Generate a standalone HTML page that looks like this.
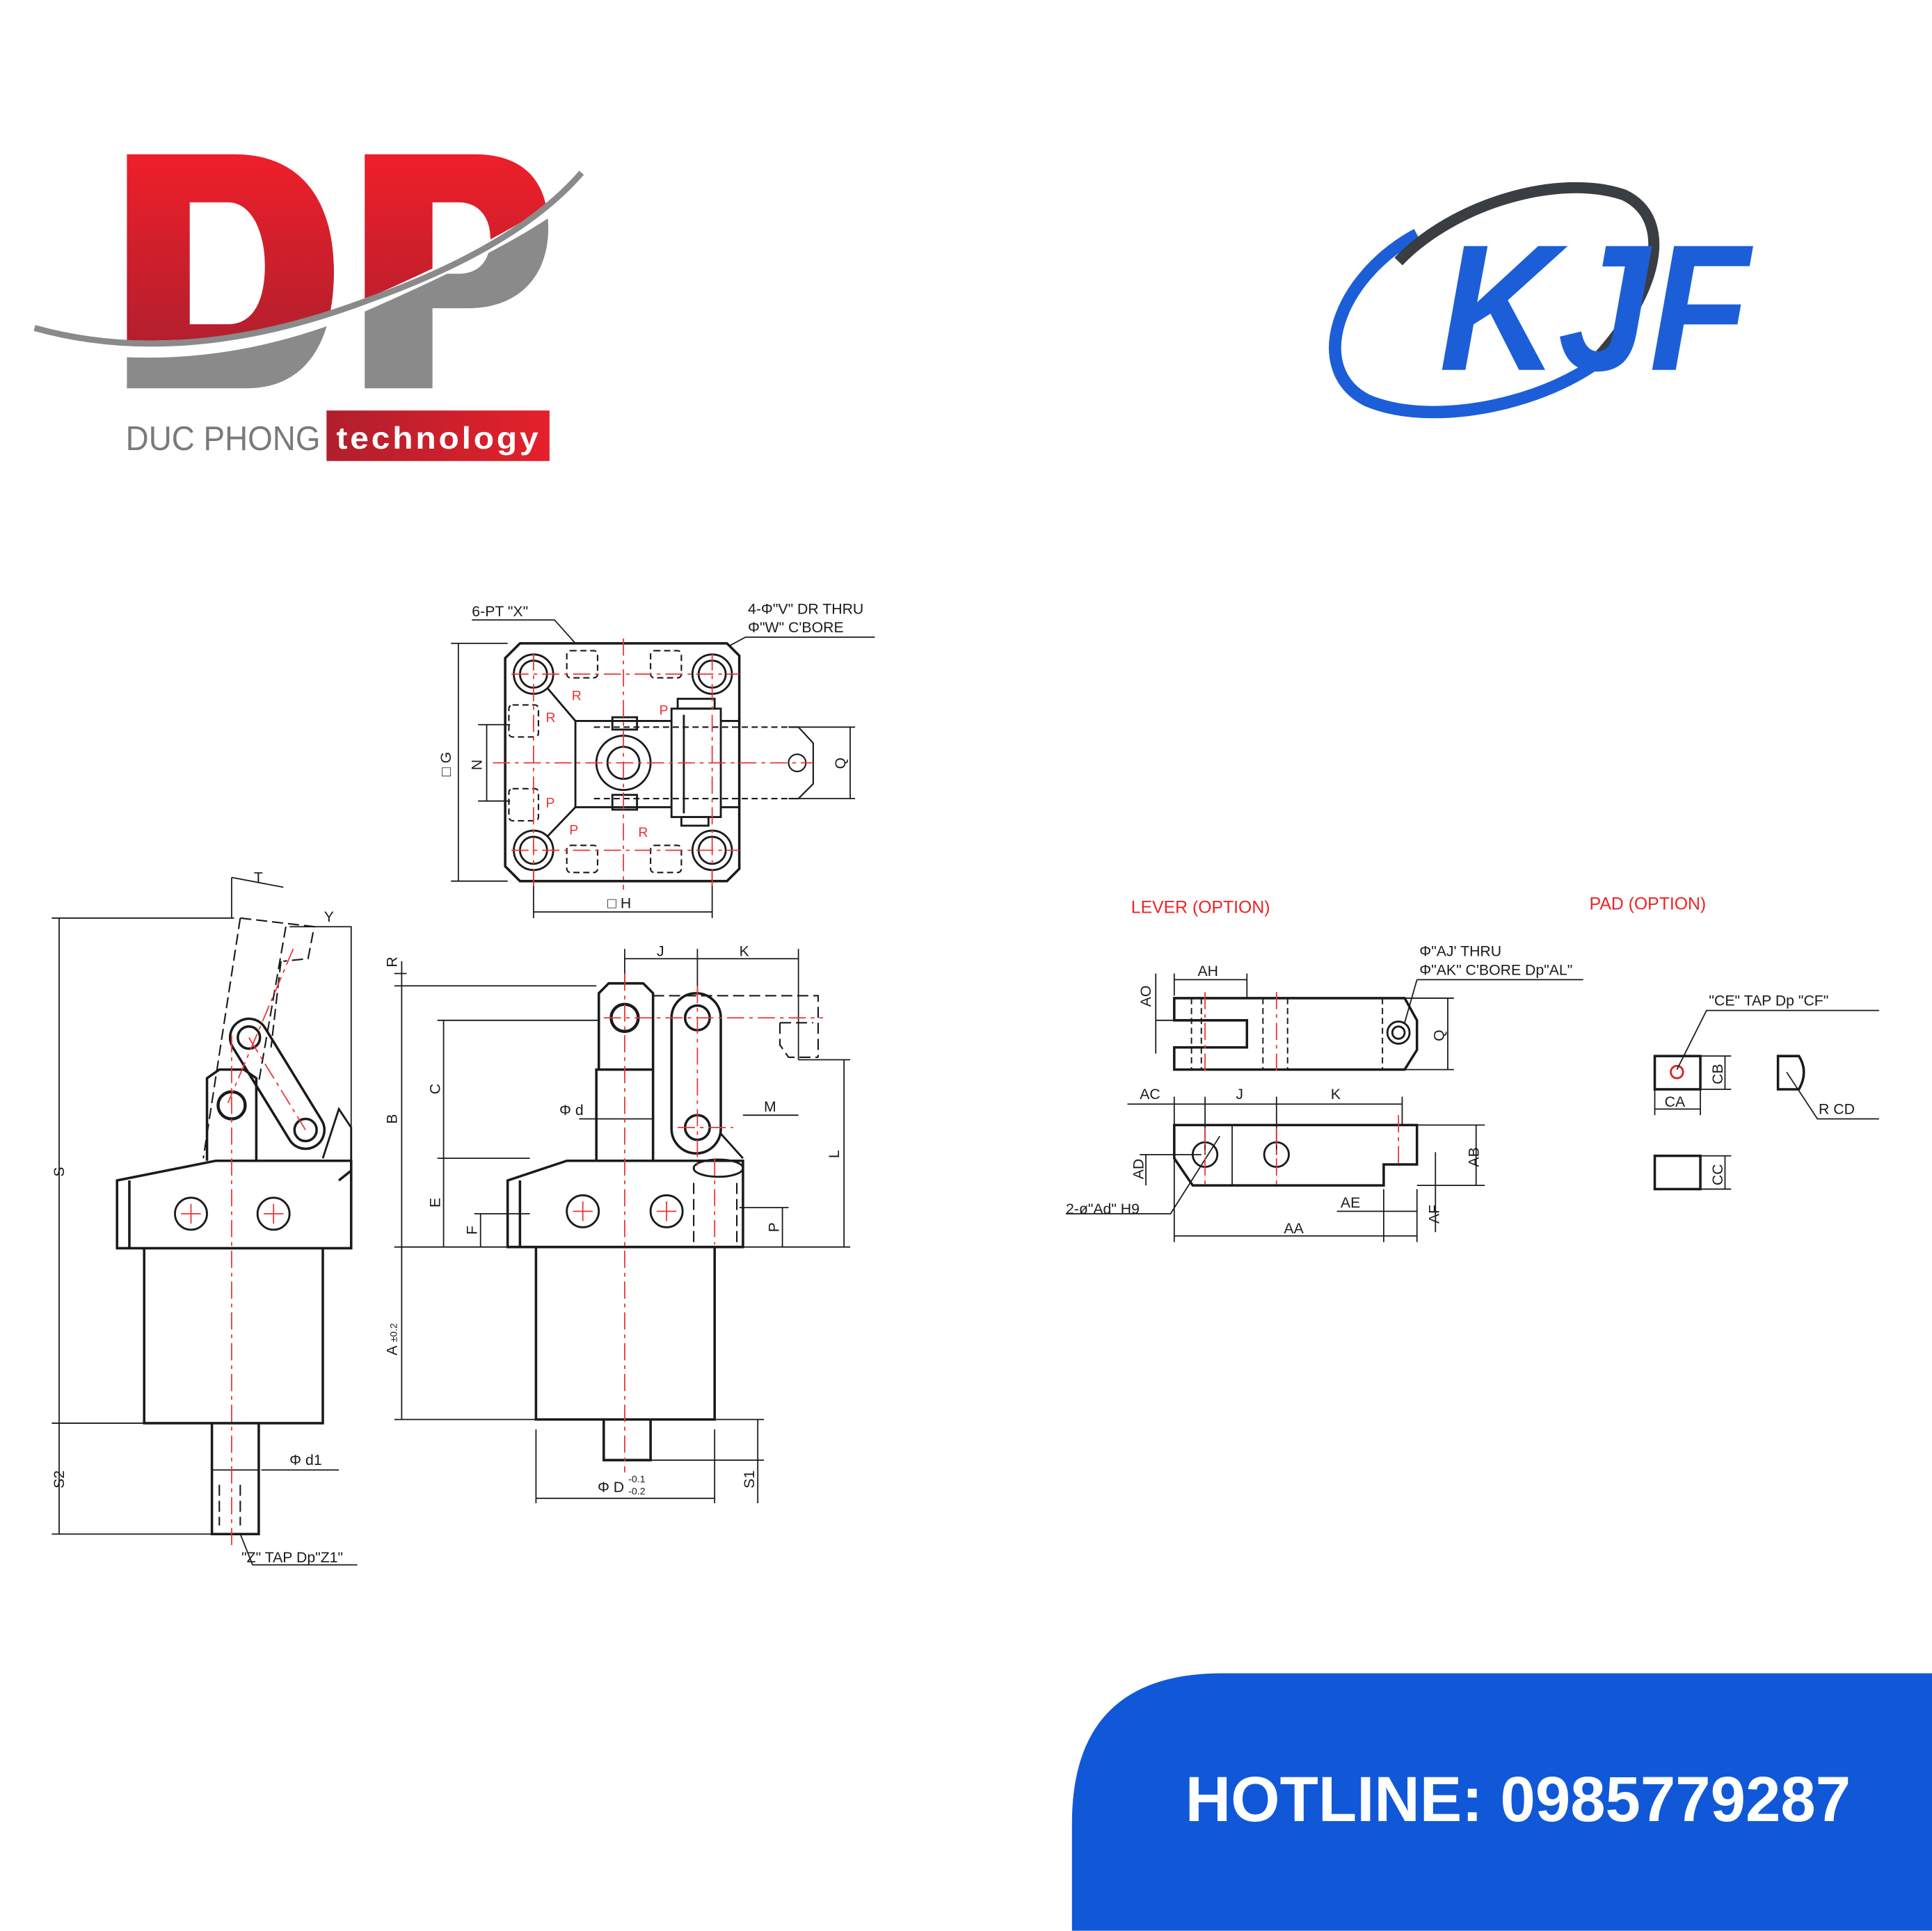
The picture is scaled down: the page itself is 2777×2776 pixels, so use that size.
<!DOCTYPE html>
<html><head><meta charset="utf-8"><style>
html,body{margin:0;padding:0;background:#fff;}
svg{display:block;}
text{font-family:"Liberation Sans",sans-serif;}
</style></head><body>
<svg width="2777" height="2776" viewBox="0 0 1568 1567" xmlns="http://www.w3.org/2000/svg">
<defs>
<linearGradient id="rg" x1="0" y1="0" x2="0" y2="1"><stop offset="0" stop-color="#ee1f2a"/><stop offset="1" stop-color="#a51f2e"/></linearGradient>
<linearGradient id="tg" x1="0" y1="0" x2="1" y2="0"><stop offset="0" stop-color="#b11f2c"/><stop offset="1" stop-color="#e4202b"/></linearGradient>
<clipPath id="below"><path d="M0,268 Q150,312 300,246 T480,142 V400 H0Z"/></clipPath>
<clipPath id="above"><path d="M0,0 H500 V142 Q420,200 300,246 T0,268Z"/></clipPath>
</defs>
<rect width="1568" height="1567" fill="#fff"/>

<!-- DP logo -->
<g fill-rule="evenodd">
<path clip-path="url(#above)" fill="url(#rg)" d="M103,125 H190 C250,125 271,170 271,220 C271,275 250,315 200,315 H103 Z M154,164 H185 C205,164 215,190 215,215 C215,245 205,263 185,263 H154 Z M296,125 H385 C428,125 445,150 445,185 C445,225 420,250 380,250 H351 V315 H296 Z M351,164 H372 C390,164 398,178 398,193 C398,210 390,222 372,222 H351 Z"/>
<path clip-path="url(#below)" fill="#8a8a8a" d="M103,125 H190 C250,125 271,170 271,220 C271,275 250,315 200,315 H103 Z M154,164 H185 C205,164 215,190 215,215 C215,245 205,263 185,263 H154 Z M296,125 H385 C428,125 445,150 445,185 C445,225 420,250 380,250 H351 V315 H296 Z M351,164 H372 C390,164 398,178 398,193 C398,210 390,222 372,222 H351 Z"/>
</g>
<path d="M0,268 Q150,312 300,246 T480,142" fill="none" stroke="#fff" stroke-width="9"/>
<path d="M28,266 Q150,300 300,243 Q420,200 472,140" fill="none" stroke="#8a8a8a" stroke-width="5"/>
<text x="102" y="365" font-size="28" fill="#7a7a7a" textLength="158" lengthAdjust="spacingAndGlyphs">DUC PHONG</text>
<rect x="265" y="333" width="181" height="41" fill="url(#tg)"/>
<text x="273" y="364" font-size="25" font-weight="bold" fill="#fff" letter-spacing="2" textLength="166" lengthAdjust="spacingAndGlyphs">technology</text>

<!-- KJF logo -->
<path d="M1150,190 C1085,225 1060,300 1110,325 C1170,350 1280,322 1320,272" fill="none" stroke="#1b5ed8" stroke-width="10"/>
<path d="M1135,212 C1180,165 1265,140 1318,158 C1360,178 1345,240 1292,295" fill="none" stroke="#3a3d42" stroke-width="9"/>
<text x="1168" y="300" font-size="146" font-weight="bold" font-style="italic" fill="#1b5ed8" textLength="252" lengthAdjust="spacingAndGlyphs">KJF</text>

<!-- Hotline -->
<path d="M870,1567 V1480 Q870,1358 992,1358 H1568 V1567 Z" fill="#1058d8"/>
<text x="962" y="1478" font-size="52" font-weight="bold" fill="#fff" textLength="540" lengthAdjust="spacingAndGlyphs">HOTLINE: 0985779287</text>

<!-- ===== Drawings ===== -->
<g fill="none" stroke="#1a1a1a" stroke-width="1.6">
<!-- top view -->
<path d="M422,522 H590 L600,532 V705 L590,715 H422 L410,703 V534 Z" stroke-width="2"/>
<circle cx="433" cy="547" r="16"/><circle cx="433" cy="547" r="11"/>
<circle cx="578" cy="547" r="16"/><circle cx="578" cy="547" r="11"/>
<circle cx="433" cy="690" r="16"/><circle cx="433" cy="690" r="11"/>
<circle cx="578" cy="690" r="16"/><circle cx="578" cy="690" r="11"/>
<path d="M444,558 L467,585 H545 M444,679 L467,655 H545 M467,585 V655"/>
<circle cx="506" cy="619" r="22"/><circle cx="506" cy="619" r="13"/>
<rect x="497" y="582" width="20" height="10"/><rect x="497" y="645" width="20" height="12"/>
<rect x="545" y="575" width="40" height="88"/><line x1="555" y1="580" x2="555" y2="660"/>
<rect x="550" y="567" width="30" height="8"/><rect x="553" y="663" width="22" height="7"/>
<path d="M585,585 H600 M585,655 H600"/>
<g stroke-dasharray="5,3" stroke-width="1.2">
<rect x="460" y="528" width="25" height="22" rx="3"/><rect x="528" y="528" width="25" height="22" rx="3"/>
<rect x="460" y="686" width="25" height="22" rx="3"/><rect x="528" y="686" width="25" height="22" rx="3"/>
<rect x="413" y="572" width="24" height="26" rx="3"/><rect x="413" y="640" width="24" height="26" rx="3"/>
<path d="M482,590 H640 M482,648 H640"/>
</g>
<path d="M640,590 H648 L660,603 V636 L648,648 H640" stroke-width="1.2"/>
<circle cx="647" cy="619" r="7" stroke-width="1.2"/>
<path d="M372,522 V715 M366,522 H412 M366,715 H412 M395,588 V650 M388,588 H414 M388,650 H414 M690,590 V648 M640,590 H694 M640,648 H694 M433,705 V745 M578,705 V745 M433,740 H578" stroke-width="1"/>
<path d="M383,503 H450 L467,522 M592,524 L605,517 H710" stroke-width="1"/>

<!-- left side view -->
<path d="M95,958 L175,942 H285 V1013 H95 Z M105,958 V1013 M275,958 L285,950" stroke-width="2"/>
<path d="M117,1013 V1155 H262 V1013 M172,1155 V1245 H210 V1155" stroke-width="2"/>
<circle cx="155" cy="985" r="13"/><circle cx="222" cy="985" r="13"/>
<path d="M168,942 V875 L178,868 H198 L208,875 V942" stroke-width="2"/>
<circle cx="188" cy="897" r="11" stroke-width="2.5"/>
<path d="M189,850 L235,925 A15,15 0 0 0 261,909 L215,834 A15,15 0 0 0 189,850 Z" stroke-width="2"/>
<circle cx="202" cy="842" r="9" stroke-width="2"/><circle cx="248" cy="917" r="9" stroke-width="2"/>
<path d="M262,940 L275,900 L285,915 V942" stroke-width="1.6"/>
<g stroke-dasharray="9,4" stroke-width="1.2"><path d="M195,745 L165,940 M232,752 L210,878 M195,745 L255,752 L250,778 L230,780 M228,780 L220,850"/><path d="M178,1205 V1238 M195,1205 V1238"/></g>
<path d="M48,745 V1245 M42,745 H190 M42,1155 H117 M42,1245 H172 M188,712 L230,720 M188,712 V745 M235,752 H285 V1013 M212,1193 H275 M172,1193 H210 M195,1245 L205,1270 H290" stroke-width="1"/>

<!-- right front view -->
<path d="M412,958 L460,942 H603 V1012 H412 Z M422,958 V1012" stroke-width="2"/>
<path d="M435,1012 V1152 H580 V1012 M490,1152 V1185 H528 V1152" stroke-width="2"/>
<circle cx="473" cy="983" r="13"/><circle cx="541" cy="983" r="13"/>
<ellipse cx="583" cy="948" rx="20" ry="7"/>
<path d="M484,942 V868 H530 V942" stroke-width="2"/>
<path d="M486,868 V806 L494,798 H522 L530,806 V868" stroke-width="2"/>
<circle cx="507" cy="826" r="11" stroke-width="2.5"/>
<rect x="545" y="806" width="40" height="130" rx="20" stroke-width="2"/>
<circle cx="566" cy="826" r="10" stroke-width="2"/><circle cx="566" cy="915" r="10" stroke-width="2"/>
<path d="M585,920 L603,940" />
<g stroke-dasharray="9,4" stroke-width="1.2"><path d="M530,808 H664 V858 M633,830 H660 M633,830 V848 L640,858 H664"/><path d="M563,960 V1012 M598,960 V1012"/></g>
<path d="M326,780 V1152 M320,800 H484 M320,1012 H412 M320,1152 H435 M360,828 V1012 M355,828 H486 M355,940 H430 M390,985 V1012 M385,985 H430 M507,770 V800 M566,770 V806 M648,770 V860 M507,778 H648 M603,905 H648 M470,908 H530 M685,860 V1012 M648,860 H690 M603,1012 H690 M635,980 V1012 M600,980 H640 M615,1152 V1220 M528,1185 H620 M580,1152 H620 M435,1160 V1220 M580,1160 V1220 M435,1216 H580 M320,790 H330" stroke-width="1"/>

<!-- lever option -->
<path d="M953,810 H1140 L1150,828 V852 L1140,868 H953 V850 H1012 V828 H953 Z" stroke-width="2"/>
<circle cx="1135" cy="838" r="9"/><circle cx="1135" cy="838" r="5"/>
<g stroke-dasharray="5,3" stroke-width="1.1"><path d="M967,810 V868 M975,810 V868 M1025,810 V868 M1045,810 V868 M1122,810 V868"/></g>
<path d="M953,913 V940 L968,962 H1123 V945 H1150 V913 Z" stroke-width="2"/>
<path d="M1000,913 V962" stroke-width="1"/>
<circle cx="978" cy="937" r="10"/><circle cx="1036" cy="937" r="10"/>
<path d="M938,790 V855 M938,828 H955 M953,790 V808 M1012,790 V810 M953,795 H1012 M1175,810 V868 M1140,810 H1180 M1140,868 H1180 M1150,795 L1140,830 M1150,795 H1285 M915,896 H1138 M953,890 V1008 M978,890 V937 M1036,890 V937 M1138,890 V913 M1150,913 H1205 M1150,962 H1205 M1198,913 V962 M930,937 V962 M925,937 H975 M1165,935 V1000 M1123,965 V1008 M1150,965 V1008 M1085,983 H1150 M953,1003 H1150 M990,922 L950,985 H865" stroke-width="1"/>
<!-- pad option -->
<rect x="1343" y="857" width="37" height="27" stroke-width="2"/>
<circle cx="1361" cy="870" r="5" stroke="#d22"/>
<path d="M1443,857 H1460 Q1468,870 1460,884 H1443 Z" stroke-width="2"/>
<rect x="1343" y="938" width="37" height="27" stroke-width="2"/>
<path d="M1361,868 L1385,820 H1525 M1380,857 H1405 M1380,884 H1405 M1400,857 V884 M1343,884 V905 M1380,884 V905 M1343,900 H1380 M1450,870 L1475,908 H1525 M1380,938 H1405 M1380,965 H1405 M1400,938 V965" stroke-width="1"/>
</g>

<!-- red centerlines -->
<g stroke="#ee3333" stroke-width="1" fill="none" stroke-dasharray="14,4,3,4">
<path d="M506,518 V722 M400,619 H660 M433,530 V720 M578,530 V720 M415,547 H600 M415,690 H600"/>
<path d="M188,840 V1255 M202,842 L248,917 M238,770 L185,895"/>
<path d="M507,790 V1195 M566,800 V950 M490,826 H668 M550,915 H595 M580,940 V1010"/>
<path d="M978,805 V872 M1036,805 V872 M978,915 V965 M1036,915 V965 M1135,905 V945"/>
</g>
<g stroke="#ee3333" stroke-width="1">
<path d="M147,985 H163 M155,977 V993 M214,985 H230 M222,977 V993 M465,983 H481 M473,975 V991 M533,983 H549 M541,975 V991"/>
</g>

<!-- labels -->
<g font-size="12" fill="#1a1a1a">
<text x="383" y="500">6-PT "X"</text>
<text x="607" y="498">4-Φ"V" DR THRU</text>
<text x="607" y="513">Φ"W" C'BORE</text>
<text x="493" y="737">□ H</text>
<text x="206" y="716">T</text><text x="263" y="748">Y</text>
<text x="533" y="776">J</text><text x="600" y="776">K</text>
<text x="620" y="902">M</text>
<text x="454" y="905">Φ d</text><text x="235" y="1189">Φ d1</text>
<text x="485" y="1211">Φ D</text><text x="510" y="1203" font-size="8">-0.1</text><text x="510" y="1213" font-size="8">-0.2</text>
<text x="196" y="1268">"Z" TAP Dp"Z1"</text>
<text x="1152" y="776">Φ"AJ' THRU</text>
<text x="1152" y="791">Φ"AK" C'BORE Dp"AL"</text>
<text x="972" y="792">AH</text>
<text x="925" y="892">AC</text><text x="1003" y="892">J</text><text x="1080" y="892">K</text>
<text x="1088" y="980">AE</text><text x="1042" y="1001">AA</text>
<text x="865" y="985">2-ø"Ad" H9</text>
<text x="1387" y="816">"CE" TAP Dp "CF"</text>
<text x="1351" y="898">CA</text>
<text x="1476" y="904">R CD</text>
</g>
<g font-size="12" fill="#1a1a1a">
<text transform="translate(366,630) rotate(-90)">□ G</text>
<text transform="translate(391,625) rotate(-90)">N</text>
<text transform="translate(686,624) rotate(-90)">Q</text>
<text transform="translate(52,955) rotate(-90)">S</text>
<text transform="translate(52,1208) rotate(-90)">S2</text>
<text transform="translate(322,785) rotate(-90)">R</text>
<text transform="translate(322,912) rotate(-90)">B</text>
<text transform="translate(357,888) rotate(-90)">C</text>
<text transform="translate(357,980) rotate(-90)">E</text>
<text transform="translate(387,1002) rotate(-90)">F</text>
<text transform="translate(322,1100) rotate(-90)">A <tspan font-size="8">±0.2</tspan></text>
<text transform="translate(632,1000) rotate(-90)">P</text>
<text transform="translate(681,940) rotate(-90)">L</text>
<text transform="translate(612,1208) rotate(-90)">S1</text>
<text transform="translate(934,817) rotate(-90)">AO</text>
<text transform="translate(1172,845) rotate(-90)">Q</text>
<text transform="translate(1200,947) rotate(-90)">AB</text>
<text transform="translate(928,957) rotate(-90)">AD</text>
<text transform="translate(1168,993) rotate(-90)">AF</text>
<text transform="translate(1398,880) rotate(-90)">CB</text>
<text transform="translate(1398,962) rotate(-90)">CC</text>
</g>
<g font-size="11" fill="#ee3333">
<text x="464" y="568">R</text><text x="443" y="586">R</text><text x="535" y="580">P</text>
<text x="443" y="655">P</text><text x="462" y="677">P</text><text x="518" y="679">R</text>
</g>
<text x="918" y="741" font-size="14" fill="#ee2222">LEVER (OPTION)</text>
<text x="1290" y="738" font-size="14" fill="#ee2222">PAD (OPTION)</text>
</svg>
</body></html>
